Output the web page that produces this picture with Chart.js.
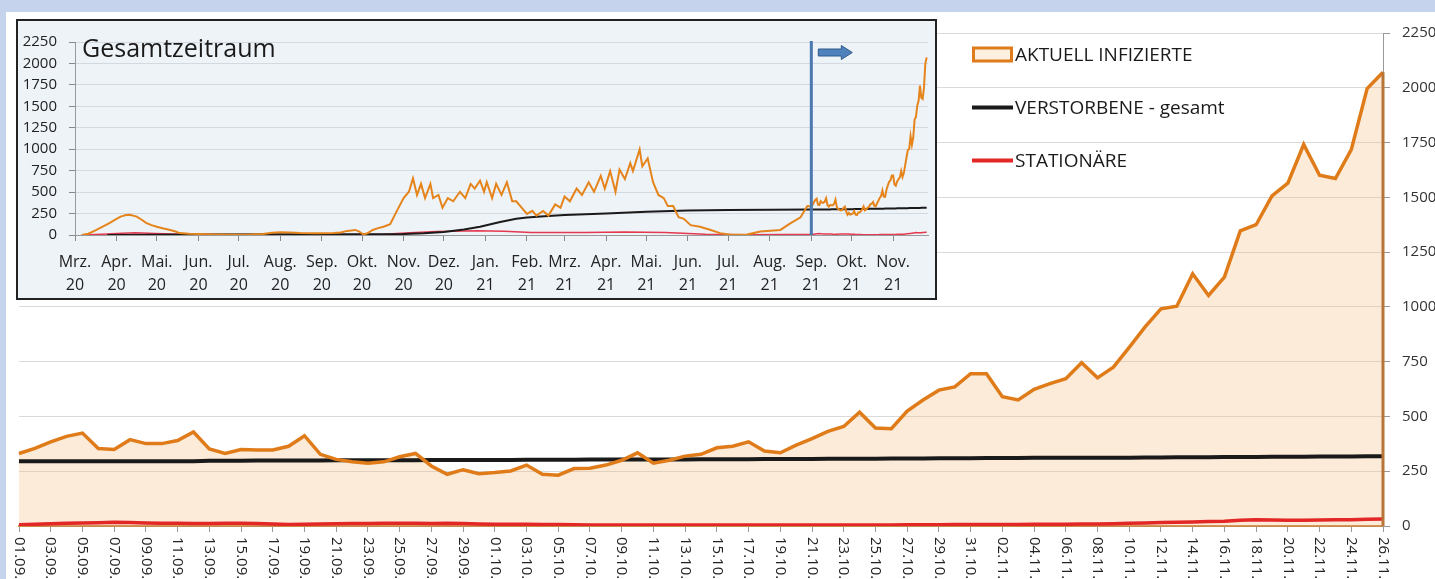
<!DOCTYPE html>
<html>
<head>
<meta charset="utf-8">
<script src="https://cdn.jsdelivr.net/npm/chart.js@4.4.0/dist/chart.umd.min.js"></script>
<style>
  html, body { margin: 0; padding: 0; }
  body { width: 1435px; height: 579px; background: #c5d4ec; overflow: hidden; position: relative; font-family: "Open Sans", sans-serif; }
  #panel { position: absolute; left: 6px; top: 12px; width: 1429px; height: 567px; background: #fff; overflow: hidden; }
  #inset { position: absolute; left: 10px; top: 7px; width: 917px; height: 277px; border: 2px solid #222; background: #eef3f8; }
  canvas { display: block; }
</style>
</head>
<body>
<div id="panel">
  <canvas id="main" width="1429" height="567"></canvas>
  <div id="inset"><canvas id="overview" width="917" height="277"></canvas></div>
</div>
<script>
//
// Data
//

// main chart: one value per day, 01.09. - 26.11.
var days = [
  '01.09.','02.09.','03.09.','04.09.','05.09.','06.09.','07.09.','08.09.','09.09.','10.09.',
  '11.09.','12.09.','13.09.','14.09.','15.09.','16.09.','17.09.','18.09.','19.09.','20.09.',
  '21.09.','22.09.','23.09.','24.09.','25.09.','26.09.','27.09.','28.09.','29.09.','30.09.',
  '01.10.','02.10.','03.10.','04.10.','05.10.','06.10.','07.10.','08.10.','09.10.','10.10.',
  '11.10.','12.10.','13.10.','14.10.','15.10.','16.10.','17.10.','18.10.','19.10.','20.10.',
  '21.10.','22.10.','23.10.','24.10.','25.10.','26.10.','27.10.','28.10.','29.10.','30.10.','31.10.',
  '01.11.','02.11.','03.11.','04.11.','05.11.','06.11.','07.11.','08.11.','09.11.','10.11.',
  '11.11.','12.11.','13.11.','14.11.','15.11.','16.11.','17.11.','18.11.','19.11.','20.11.',
  '21.11.','22.11.','23.11.','24.11.','25.11.','26.11.'
];

var infected = [
  331, 354, 384, 409, 424, 354, 349, 394, 376, 376, 390, 429, 352, 331, 349, 347, 347, 364, 412, 327,
  304, 293, 286, 293, 316, 331, 274, 236, 257, 239, 244, 251, 278, 236, 232, 262, 264, 278, 300, 334,
  287, 300, 319, 327, 357, 364, 384, 342, 334, 369, 399, 432, 454, 519, 447, 444, 525, 575, 620, 635,
  695, 695, 590, 575, 624, 650, 672, 745, 676, 725, 815, 909, 991, 1003, 1151, 1052, 1136, 1347, 1375, 1507,
  1565, 1741, 1601, 1586, 1718, 1996, 2071
];

var deceased = [
  296, 296, 296, 296, 296, 296, 296, 296, 296, 296, 296, 296,
  298, 298, 298, 299, 299, 299, 299, 299, 300, 300, 300, 300, 300, 300, 301, 301, 301, 301,
  301, 301, 302, 302, 302, 302, 303, 303, 303, 303, 304, 304, 304, 305, 305, 305, 305, 306, 306, 306,
  306, 307, 307, 307, 307, 308, 308, 308, 309, 309, 309,
  310, 310, 310, 311, 311, 311, 311, 312, 312, 312, 313, 313, 314, 314, 314, 315, 315, 315, 316, 316,
  316, 317, 317, 317, 318, 318
];

var hospital = [
  6, 8, 10, 12, 14, 15, 17, 16, 14, 13, 12,
  11, 11, 12, 12, 11, 9, 7, 8, 9, 10,
  11, 11, 12, 12, 12, 11, 12, 11, 9, 8,
  8, 8, 7, 7, 6, 5, 5, 4, 4, 4, 4, 4, 4, 4, 4,
  4, 4, 4, 4, 4, 5, 5, 5, 5, 5, 6, 6, 6, 7, 7,
  7, 7, 7, 8, 8, 8, 9, 9, 10, 12,
  14, 16, 17, 18, 20, 22, 26, 28, 27, 26,
  26, 27, 28, 29, 31, 32
];

// overview chart: x = days since 01.03.2020
var monthStarts = [0, 31, 61, 92, 122, 153, 184, 214, 245, 275, 306, 337, 365, 396, 426, 457, 487, 518, 549, 579, 610];
var monthNames = ['Mrz.', 'Apr.', 'Mai.', 'Jun.', 'Jul.', 'Aug.', 'Sep.', 'Okt.', 'Nov.', 'Dez.',
                  'Jan.', 'Feb.', 'Mrz.', 'Apr.', 'Mai.', 'Jun.', 'Jul.', 'Aug.', 'Sep.', 'Okt.', 'Nov.'];
var monthYears = ['20', '20', '20', '20', '20', '20', '20', '20', '20', '20',
                  '21', '21', '21', '21', '21', '21', '21', '21', '21', '21', '21'];
var detailStart = 549; // 01.09.2021, first day of the main chart

var ovInfectedDays = [5, 10, 16, 21, 26, 30, 34, 38, 41, 46, 50, 53, 57, 61, 66, 71, 75, 78, 85, 93,
  105, 118, 130, 140, 147, 153, 160, 168, 180, 193, 198, 203, 209, 212, 215, 218, 222, 226, 230, 235,
  240, 245, 249, 252, 255, 258, 261, 265, 267, 271, 274, 278, 282, 287, 291, 295, 298, 302, 305, 307,
  311, 314, 318, 322, 326, 329, 333, 337, 341, 344, 349, 353, 358, 362, 365, 369, 374, 378, 383, 387,
  392, 395, 399, 403, 406, 410, 414, 416, 421, 423, 427, 431, 435, 439, 442, 446, 450, 454, 459, 466,
  474, 481, 489, 501, 511, 526, 533, 541, 546];
var ovInfected = [0, 15, 59, 100, 141, 180, 215, 232, 237, 215, 175, 141, 115, 96, 75, 59, 40, 22, 15, 11,
  6, 3, 5, 11, 25, 33, 28, 22, 20, 22, 30, 48, 59, 40, 5, 20, 59, 80, 96, 126,
  281, 430, 504, 660, 467, 596, 430, 596, 430, 467, 318, 430, 393, 504, 430, 596, 541, 634, 504, 615,
  430, 596, 467, 615, 393, 393, 318, 245, 281, 226, 281, 226, 356, 318, 448, 393, 541, 467, 615, 504,
  690, 541, 745, 504, 763, 652, 838, 745, 997, 801, 893, 615, 467, 430, 337, 337, 207, 189, 115, 96,
  59, 22, 2, 5, 40, 59, 133, 207, 337];

var ovDeceasedDays = [24, 60, 92, 153, 214, 245, 260, 275, 290, 302, 317, 329, 337, 350, 365, 396, 426, 457, 487, 518];
var ovDeceased = [0, 3, 5, 8, 10, 12, 20, 35, 65, 96, 152, 189, 205, 220, 232, 252, 270, 285, 291, 294];

var ovHospitalDays = [5, 20, 35, 45, 60, 80, 120, 200, 230, 250, 270, 300, 320, 340, 380, 410, 440, 470, 500, 530];
var ovHospital = [0, 8, 20, 25, 18, 8, 3, 3, 8, 25, 40, 50, 45, 30, 30, 35, 28, 10, 3, 5];

var colInfected = '#e07b1a';
var colInfectedFill = 'rgba(243,180,110,0.27)';
var colDeceased = '#1a1a1a';
var colHospital = '#e32626';

function points(xs, ys, tail) {
  var out = xs.map(function(x, i) { return { x: x, y: ys[i] }; });
  tail.forEach(function(v, i) { out.push({ x: detailStart + i, y: v }); });
  return out;
}

// plain numbers, no thousands separator
function plain(v) { return String(v); }

//
// Main chart
//

var mainExtras = {
  id: 'mainExtras',
  afterDatasetsDraw: function(chart) {
    var ctx = chart.ctx, xs = chart.scales.x, ys = chart.scales.y;
    var last = infected.length - 1;

    // right edge of the area
    ctx.save();
    ctx.strokeStyle = '#b97538';
    ctx.lineWidth = 3;
    ctx.beginPath();
    ctx.moveTo(xs.getPixelForValue(last), ys.getPixelForValue(infected[last]));
    ctx.lineTo(xs.getPixelForValue(last), ys.getPixelForValue(0));
    ctx.stroke();
    ctx.restore();
  },
  afterDraw: function(chart) {
    var ctx = chart.ctx, xs = chart.scales.x;

    // date labels, every second day, reading downwards
    ctx.save();
    ctx.fillStyle = '#222';
    ctx.font = '15px "Open Sans"';
    ctx.textAlign = 'left';
    ctx.textBaseline = 'middle';
    days.forEach(function(d, i) {
      if (i % 2) return;
      ctx.save();
      ctx.translate(xs.getPixelForValue(i), xs.top + 11);
      ctx.rotate(Math.PI / 2);
      ctx.fillText(d, 0, 0);
      ctx.restore();
    });
    ctx.restore();

    // legend
    var rows = [42.5, 95.5, 148.5];
    ctx.save();
    chart.data.datasets.forEach(function(ds, i) {
      var y = rows[i];
      if (i === 0) {
        ctx.fillStyle = '#fdf0e0';
        ctx.fillRect(967, y - 6.5, 38, 13);
        ctx.strokeStyle = ds.borderColor;
        ctx.lineWidth = 3;
        ctx.strokeRect(967.5, y - 6.5, 38, 13);
      } else {
        ctx.strokeStyle = ds.borderColor;
        ctx.lineWidth = 4;
        ctx.beginPath();
        ctx.moveTo(966, y);
        ctx.lineTo(1007, y);
        ctx.stroke();
      }
      ctx.fillStyle = '#1a1a1a';
      ctx.font = '19px "Open Sans"';
      ctx.textBaseline = 'middle';
      ctx.fillText(ds.label, 1009, y + 1);
    });
    ctx.restore();
  }
};

var mainChart = new Chart(document.getElementById('main'), {
  type: 'line',
  data: {
    labels: days,
    datasets: [
      { label: 'AKTUELL INFIZIERTE', data: infected, borderColor: colInfected, backgroundColor: colInfectedFill,
        borderWidth: 3.5, fill: 'origin', pointRadius: 0, tension: 0 },
      { label: 'VERSTORBENE - gesamt', data: deceased, borderColor: colDeceased, borderWidth: 4, fill: false, pointRadius: 0 },
      { label: 'STATIONÄRE', data: hospital, borderColor: colHospital, borderWidth: 3.5, fill: false, pointRadius: 0 }
    ]
  },
  options: {
    responsive: false,
    animation: false,
    layout: { padding: { left: 13, top: 15, right: 0, bottom: 0 } },
    plugins: {
      legend: { display: false },
      tooltip: { enabled: false },
      filler: { drawTime: 'beforeDatasetsDraw' }
    },
    scales: {
      x: {
        ticks: { display: false },
        grid: {
          drawOnChartArea: false, tickLength: 6,
          tickColor: function(c) { return c.index % 2 === 0 ? '#9a9a9a' : 'rgba(0,0,0,0)'; }
        },
        border: { color: '#c9894c', width: 2 },
        afterFit: function(s) { s.height = 53; }
      },
      y: {
        position: 'right',
        min: 0, max: 2250,
        ticks: { stepSize: 250, padding: 12, color: '#333', font: { family: 'Open Sans', size: 15 }, callback: plain },
        grid: { color: '#dadada', tickLength: 7, tickColor: '#999' },
        border: { color: '#999', width: 1 },
        afterFit: function(s) { s.width = 52; }
      }
    }
  },
  plugins: [mainExtras]
});

//
// Overview chart
//

var overviewExtras = {
  id: 'overviewExtras',
  afterDraw: function(chart) {
    var ctx = chart.ctx, xs = chart.scales.x, area = chart.chartArea;
    var x = xs.getPixelForValue(detailStart);

    ctx.save();
    // marker line
    ctx.strokeStyle = '#4a78b0';
    ctx.lineWidth = 3;
    ctx.beginPath();
    ctx.moveTo(x, area.top - 1);
    ctx.lineTo(x, area.bottom);
    ctx.stroke();

    // arrow
    var cy = area.top + 10.5;
    ctx.fillStyle = '#4f81bd';
    ctx.strokeStyle = '#2f5a8a';
    ctx.lineWidth = 1;
    ctx.beginPath();
    ctx.moveTo(x + 7, cy - 3.5);
    ctx.lineTo(x + 30, cy - 3.5);
    ctx.lineTo(x + 30, cy - 7);
    ctx.lineTo(x + 41, cy);
    ctx.lineTo(x + 30, cy + 7);
    ctx.lineTo(x + 30, cy + 3.5);
    ctx.lineTo(x + 7, cy + 3.5);
    ctx.closePath();
    ctx.fill();
    ctx.stroke();

    // title
    ctx.fillStyle = '#1a1a1a';
    ctx.font = '25px "Open Sans"';
    ctx.textBaseline = 'alphabetic';
    ctx.fillText('Gesamtzeitraum', area.left + 7, 36);
    ctx.restore();
  }
};

var overviewChart = new Chart(document.getElementById('overview'), {
  type: 'line',
  data: {
    datasets: [
      { label: 'AKTUELL INFIZIERTE', data: points(ovInfectedDays, ovInfected, infected),
        borderColor: '#e6841c', borderWidth: 2, pointRadius: 0, fill: false },
      { label: 'VERSTORBENE - gesamt', data: points(ovDeceasedDays, ovDeceased, deceased),
        borderColor: colDeceased, borderWidth: 2, pointRadius: 0, fill: false },
      { label: 'STATIONÄRE', data: points(ovHospitalDays, ovHospital, hospital),
        borderColor: '#e5394f', borderWidth: 1.5, pointRadius: 0, fill: false }
    ]
  },
  options: {
    responsive: false,
    animation: false,
    layout: { padding: { top: 12, right: 7, left: 0, bottom: 0 } },
    plugins: { legend: { display: false }, tooltip: { enabled: false } },
    scales: {
      x: {
        type: 'linear', min: 0, max: 636,
        afterBuildTicks: function(s) { s.ticks = monthStarts.map(function(v) { return { value: v }; }); },
        ticks: {
          autoSkip: false, maxRotation: 0, minRotation: 0, padding: 10, color: '#222',
          font: { family: 'Open Sans', size: 16, lineHeight: 1.44 },
          callback: function(v) {
            var k = monthStarts.indexOf(v);
            return k < 0 ? '' : [monthNames[k], monthYears[k]];
          }
        },
        grid: { drawOnChartArea: false, tickLength: 6, tickColor: '#888' },
        border: { color: '#999' },
        afterFit: function(s) { s.height = 63; }
      },
      y: {
        min: 0, max: 2250,
        ticks: { stepSize: 250, padding: 12, color: '#222', font: { family: 'Open Sans', size: 15 }, callback: plain },
        grid: { color: '#d3d9e0', tickLength: 6, tickColor: '#888' },
        border: { color: '#999' },
        afterFit: function(s) { s.width = 57; }
      }
    }
  },
  plugins: [overviewExtras]
});
</script>
</body>
</html>
